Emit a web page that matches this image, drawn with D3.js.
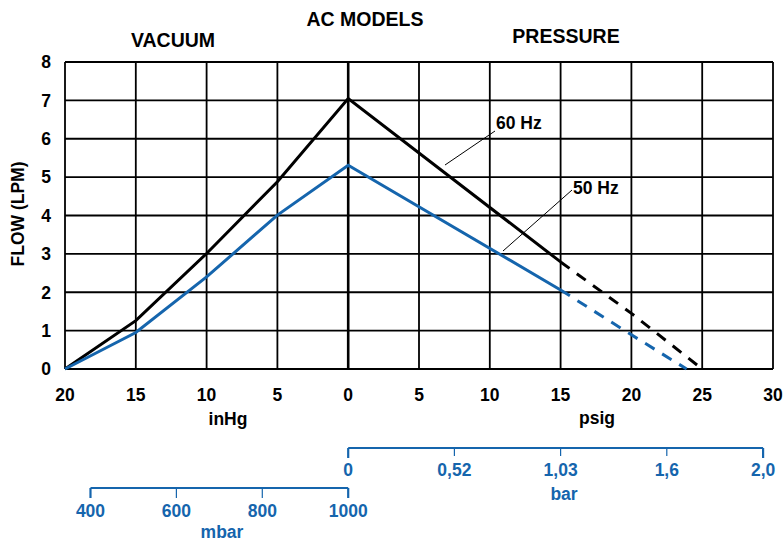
<!DOCTYPE html>
<html>
<head>
<meta charset="utf-8">
<script src="https://cdn.jsdelivr.net/npm/d3@7"></script>
<style>
  body { margin: 0; background: #fff; }
  text { font-family: "Liberation Sans", Arial, Helvetica, sans-serif; font-weight: bold; }
</style>
</head>
<body>
<svg id="chart" width="783" height="543"></svg>
<script>
// vacuum side (inHg) - plotted to the left of zero
const vacuumInHg = [20, 15, 10, 5, 0]
const flow60Vacuum = [0, 1.26, 3.01, 4.88, 7.05]
const flow50Vacuum = [0, 0.95, 2.4, 4.01, 5.31]
// pressure side (psig)
const pressurePsig = [0, 15]
const flow60Pressure = [7.05, 2.79]
const flow50Pressure = [5.31, 2.06]
const psig60Dashed = [15, 20, 25]
const flow60Dashed = [2.79, 1.45, 0]
const psig50Dashed = [15, 20, 23.9]
const flow50Dashed = [2.06, 0.89, 0]

const xTicks = [-20, -15, -10, -5, 0, 5, 10, 15, 20, 25, 30]
const flowTicks = [0, 1, 2, 3, 4, 5, 6, 7, 8]
const barTickLabels = ['0', '0,52', '1,03', '1,6', '2,0']
const barTickPsig = [0, 7.5, 15, 22.5, 29.3]
const mbarTicks = [400, 600, 800, 1000]
const mbarLowInHg = 18.2

const blue = '#1565ad'
const svg = d3.select('#chart')
const plotLeft = 65
const plotRight = 773
const plotTop = 62
const plotBottom = 369
const fs = 17.5

const x = d3.scaleLinear().domain([-20, 30]).range([plotLeft, plotRight])
const y = d3.scaleLinear().domain([0, 8]).range([plotBottom, plotTop])
const mbar = d3.scaleLinear().domain([400, 1000]).range([x(-mbarLowInHg), x(0)])

// grid
const grid = svg.append('g')
grid.selectAll('line.h').data(flowTicks).enter().append('line')
  .attr('x1', plotLeft).attr('x2', plotRight)
  .attr('y1', d => y(d)).attr('y2', d => y(d))
  .attr('stroke', '#000').attr('stroke-width', 1.8)
grid.selectAll('line.v').data(xTicks).enter().append('line')
  .attr('x1', d => x(d)).attr('x2', d => x(d))
  .attr('y1', plotTop).attr('y2', plotBottom)
  .attr('stroke', '#000').attr('stroke-width', d => d === 0 ? 2.6 : 1.8)

// y labels
svg.append('g').selectAll('text').data(flowTicks).enter().append('text')
  .attr('x', 51).attr('y', d => y(d)).attr('dy', '0.36em')
  .attr('text-anchor', 'end').attr('font-size', fs)
  .text(d => d)

// x labels
svg.append('g').selectAll('text').data(xTicks).enter().append('text')
  .attr('x', d => x(d)).attr('y', 401)
  .attr('text-anchor', 'middle').attr('font-size', fs)
  .text(d => Math.abs(d))

// series
const line = d3.line().x(d => x(d[0])).y(d => y(d[1]))
const vac = (vals) => vacuumInHg.map((v, i) => [-v, vals[i]])
const pres = (xs, vals) => xs.map((p, i) => [p, vals[i]])

const series = [
  { pts: vac(flow60Vacuum).concat(pres(pressurePsig, flow60Pressure).slice(1)), color: '#000', dash: null },
  { pts: vac(flow50Vacuum).concat(pres(pressurePsig, flow50Pressure).slice(1)), color: blue, dash: null },
  { pts: pres(psig60Dashed, flow60Dashed), color: '#000', dash: '11,9' },
  { pts: pres(psig50Dashed, flow50Dashed), color: blue, dash: '11,9' }
]
svg.append('g').selectAll('path').data(series).enter().append('path')
  .attr('d', d => line(d.pts))
  .attr('fill', 'none')
  .attr('stroke', d => d.color)
  .attr('stroke-width', 3)
  .attr('stroke-dasharray', d => d.dash)

// callouts
svg.append('line').attr('x1', 445).attr('y1', 165).attr('x2', 495).attr('y2', 131)
  .attr('stroke', '#000').attr('stroke-width', 1)
svg.append('text').attr('x', 496).attr('y', 129).attr('font-size', fs).text('60 Hz')
svg.append('line').attr('x1', 503).attr('y1', 251).attr('x2', 572).attr('y2', 190)
  .attr('stroke', '#000').attr('stroke-width', 1)
svg.append('text').attr('x', 573).attr('y', 194).attr('font-size', fs).text('50 Hz')

// titles
svg.append('text').attr('x', 365).attr('y', 26).attr('text-anchor', 'middle').attr('font-size', 19.5).text('AC MODELS')
svg.append('text').attr('x', 173).attr('y', 47).attr('text-anchor', 'middle').attr('font-size', 19.5).text('VACUUM')
svg.append('text').attr('x', 566).attr('y', 43).attr('text-anchor', 'middle').attr('font-size', 19.5).text('PRESSURE')
svg.append('text').attr('transform', 'translate(24,214) rotate(-90)')
  .attr('text-anchor', 'middle').attr('font-size', fs).text('FLOW (LPM)')
svg.append('text').attr('x', 228).attr('y', 425).attr('text-anchor', 'middle').attr('font-size', fs).text('inHg')
svg.append('text').attr('x', 597).attr('y', 424).attr('text-anchor', 'middle').attr('font-size', fs).text('psig')

// bar axis
const barY = 448
const barAxis = svg.append('g')
barAxis.append('line').attr('x1', x(barTickPsig[0])).attr('x2', x(barTickPsig[barTickPsig.length - 1]))
  .attr('y1', barY).attr('y2', barY).attr('stroke', blue).attr('stroke-width', 2)
barAxis.selectAll('line.t').data(barTickPsig).enter().append('line')
  .attr('x1', d => x(d)).attr('x2', d => x(d))
  .attr('y1', barY).attr('y2', (d, i) => (i === 0 || i === barTickPsig.length - 1) ? barY + 10 : barY + 8)
  .attr('stroke', blue)
  .attr('stroke-width', (d, i) => (i === 0 || i === barTickPsig.length - 1) ? 2.2 : 1.2)
barAxis.selectAll('text').data(barTickPsig).enter().append('text')
  .attr('x', d => x(d)).attr('y', 476)
  .attr('text-anchor', 'middle').attr('font-size', fs).attr('fill', blue)
  .text((d, i) => barTickLabels[i])
barAxis.append('text').attr('x', 564).attr('y', 500).attr('text-anchor', 'middle')
  .attr('font-size', fs).attr('fill', blue).text('bar')

// mbar axis
const mbarY = 488
const mbarAxis = svg.append('g')
mbarAxis.append('line').attr('x1', mbar(400)).attr('x2', mbar(1000))
  .attr('y1', mbarY).attr('y2', mbarY).attr('stroke', blue).attr('stroke-width', 2)
mbarAxis.selectAll('line.t').data(mbarTicks).enter().append('line')
  .attr('x1', d => mbar(d)).attr('x2', d => mbar(d))
  .attr('y1', mbarY).attr('y2', mbarY + 10)
  .attr('stroke', blue)
  .attr('stroke-width', (d, i) => (i === 0 || i === mbarTicks.length - 1) ? 2.2 : 1.2)
mbarAxis.selectAll('text').data(mbarTicks).enter().append('text')
  .attr('x', d => mbar(d)).attr('y', 517)
  .attr('text-anchor', 'middle').attr('font-size', fs).attr('fill', blue)
  .text(d => d)
mbarAxis.append('text').attr('x', 222).attr('y', 538).attr('text-anchor', 'middle')
  .attr('font-size', fs).attr('fill', blue).text('mbar')
</script>
</body>
</html>
